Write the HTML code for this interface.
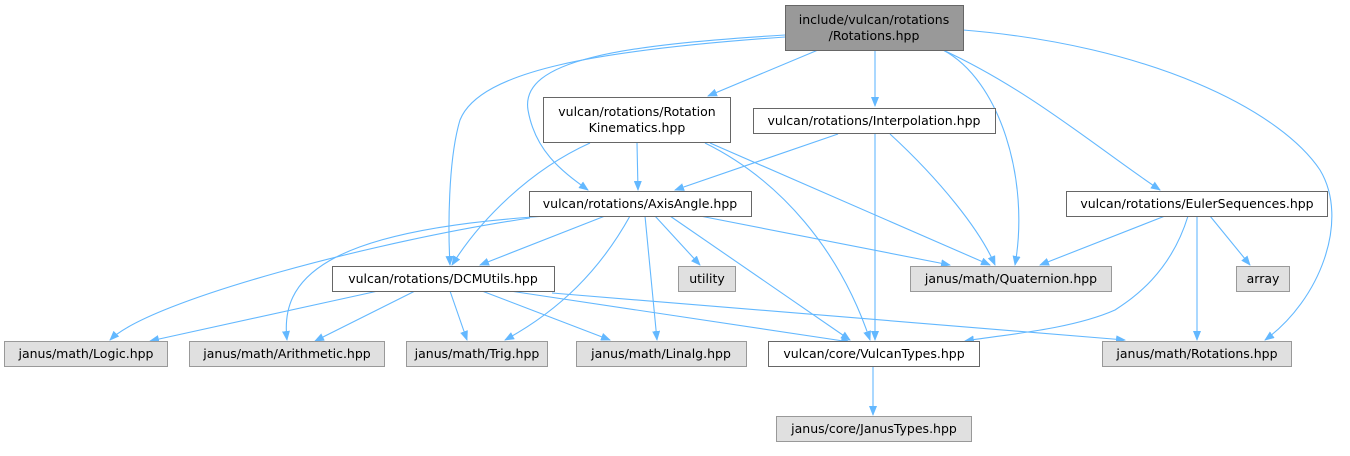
<!DOCTYPE html>
<html><head><meta charset="utf-8"><style>
html,body{margin:0;padding:0;background:#fff;}
svg text{font-family:"DejaVu Sans","Liberation Sans",sans-serif;font-size:12.5px;fill:#000;}
</style></head><body>
<svg width="1350" height="451" viewBox="0 0 1350 451" xmlns="http://www.w3.org/2000/svg">
<defs><marker id="a" markerWidth="10" markerHeight="8" refX="9" refY="4" orient="auto" markerUnits="userSpaceOnUse"><path d="M0,0 L10,4 L0,8 z" fill="#63b8ff"/></marker></defs>
<g fill="none" stroke="#63b8ff" stroke-width="1.1" marker-end="url(#a)">
<path d="M818,50 L708,96"/>
<path d="M875,50 L875,106"/>
<path d="M785,35 C620,45 520,60 528,110 C535,150 560,170 588,190"/>
<path d="M785,37 C600,50 480,70 460,120 C448,160 448,230 450,265"/>
<path d="M943,50 C1000,80 1030,180 1015,265"/>
<path d="M943,50 C1030,90 1100,150 1160,190"/>
<path d="M963,30 C1150,45 1280,110 1320,170 C1350,220 1320,300 1265,340"/>
<path d="M637,143 L638,190"/>
<path d="M590,143 C530,170 480,220 452,265"/>
<path d="M705,143 C780,180 840,250 870,340"/>
<path d="M710,143 L990,265"/>
<path d="M838,134 L675,190"/>
<path d="M875,134 L875,340"/>
<path d="M890,134 C940,180 980,230 995,265"/>
<path d="M1165,216 L1040,265"/>
<path d="M1210,216 L1250,265"/>
<path d="M1197,216 L1197,340"/>
<path d="M1188,216 C1170,275 1130,300 1115,310 C1070,330 1000,335 965,341"/>
<path d="M605,216 L480,265"/>
<path d="M530,218 C380,240 150,300 110,340"/>
<path d="M548,216 C320,230 280,280 287,340"/>
<path d="M630,216 C600,270 560,310 505,340"/>
<path d="M645,216 L657,340"/>
<path d="M655,216 L700,265"/>
<path d="M670,216 L850,340"/>
<path d="M700,216 L950,265"/>
<path d="M378,291 L150,341"/>
<path d="M415,291 L315,341"/>
<path d="M450,291 L467,340"/>
<path d="M482,291 L610,340"/>
<path d="M510,291 L850,342"/>
<path d="M552,293 L1125,340"/>
<path d="M873,367 L873,415"/>
</g>
<g stroke-width="1">
<rect x="785.5" y="5.5" width="178" height="45" fill="#999" stroke="#666"/>
<rect x="543.5" y="97.5" width="187" height="45" fill="#fff" stroke="#666"/>
<rect x="753.5" y="108.5" width="242" height="25" fill="#fff" stroke="#666"/>
<rect x="1066.5" y="191.5" width="261" height="25" fill="#fff" stroke="#666"/>
<rect x="529.5" y="191.5" width="222" height="25" fill="#fff" stroke="#666"/>
<rect x="332.5" y="266.5" width="222" height="25" fill="#fff" stroke="#666"/>
<rect x="678.5" y="266.5" width="57" height="25" fill="#e0e0e0" stroke="#999"/>
<rect x="910.5" y="266.5" width="201" height="25" fill="#e0e0e0" stroke="#999"/>
<rect x="1236.5" y="266.5" width="53" height="25" fill="#e0e0e0" stroke="#999"/>
<rect x="4.5" y="341.5" width="163" height="25" fill="#e0e0e0" stroke="#999"/>
<rect x="189.5" y="341.5" width="195" height="25" fill="#e0e0e0" stroke="#999"/>
<rect x="406.5" y="341.5" width="141" height="25" fill="#e0e0e0" stroke="#999"/>
<rect x="576.5" y="341.5" width="170" height="25" fill="#e0e0e0" stroke="#999"/>
<rect x="768.5" y="341.5" width="211" height="25" fill="#fff" stroke="#666"/>
<rect x="1102.5" y="341.5" width="189" height="25" fill="#e0e0e0" stroke="#999"/>
<rect x="776.5" y="416.5" width="195" height="25" fill="#e0e0e0" stroke="#999"/>
</g>
<g text-anchor="middle">
<text x="874" y="24">include/vulcan/rotations</text>
<text x="874" y="40">/Rotations.hpp</text>
<text x="637" y="116">vulcan/rotations/Rotation</text>
<text x="637" y="132">Kinematics.hpp</text>
<text x="874" y="125">vulcan/rotations/Interpolation.hpp</text>
<text x="1197" y="208">vulcan/rotations/EulerSequences.hpp</text>
<text x="640" y="208">vulcan/rotations/AxisAngle.hpp</text>
<text x="443" y="283">vulcan/rotations/DCMUtils.hpp</text>
<text x="707" y="283">utility</text>
<text x="1011" y="283">janus/math/Quaternion.hpp</text>
<text x="1263" y="283">array</text>
<text x="86" y="358">janus/math/Logic.hpp</text>
<text x="287" y="358">janus/math/Arithmetic.hpp</text>
<text x="477" y="358">janus/math/Trig.hpp</text>
<text x="661" y="358">janus/math/Linalg.hpp</text>
<text x="874" y="358">vulcan/core/VulcanTypes.hpp</text>
<text x="1197" y="358">janus/math/Rotations.hpp</text>
<text x="874" y="433">janus/core/JanusTypes.hpp</text>
</g>
</svg>
</body></html>
